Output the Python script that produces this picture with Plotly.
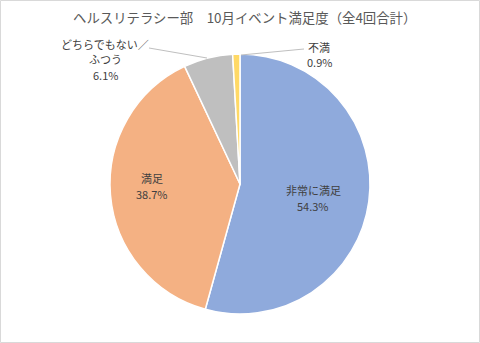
import plotly.graph_objects as go

# Survey results
categories = ["非常に満足", "満足", "どちらでもない／ふつう", "不満"]
shares = [54.3, 38.7, 6.1, 0.9]
colors = ["#8FAADC", "#F4B183", "#BFBFBF", "#FFD966"]
title = "ヘルスリテラシー部　10月イベント満足度（全4回合計）"

W, H = 480, 343
FONT = "Noto Sans CJK JP"

fig = go.Figure(go.Pie(
    labels=categories,
    values=shares,
    sort=False,
    direction="clockwise",
    rotation=0,
    marker=dict(colors=colors, line=dict(color="white", width=1.5)),
    textinfo="none",
    hoverinfo="label+percent",
    domain=dict(x=[110 / W, 370 / W], y=[29 / H, 289 / H]),
    showlegend=False,
))

# Label lines per slice: category name (wrapped after "／") then percentage
def label_lines(name, v):
    parts = name.replace("／", "／\n").split("\n")
    return parts + [f"{v:.1f}%"]

# Pixel anchor (x, first-line y) and line pitch for each slice's label
label_pos = [(313, 190, 16), (152, 178, 16), (105, 44, 15.5), (319, 47, 15.5)]

annotations = []
for name, v, (px, py, pitch) in zip(categories, shares, label_pos):
    for i, line in enumerate(label_lines(name, v)):
        annotations.append(dict(
            x=px / W, y=1 - (py + i * pitch) / H, xref="paper", yref="paper",
            text=line, showarrow=False,
            font=dict(family=FONT, size=11, color="#404040"),
            xanchor="center", yanchor="middle",
        ))

annotations.append(dict(
    x=245 / W, y=1 - 17 / H, xref="paper", yref="paper", text=title,
    showarrow=False, font=dict(family=FONT, size=13.4, color="#595959"),
    xanchor="center", yanchor="middle",
))

shapes = [
    # chart frame
    dict(type="rect", xref="paper", yref="paper", x0=0.5 / W, x1=1 - 0.5 / W,
         y0=0.5 / H, y1=1 - 0.5 / H, line=dict(color="#D9D9D9", width=1)),
    # leader lines for the small slices
    dict(type="line", xref="paper", yref="paper", x0=149 / W, y0=1 - 48 / H,
         x1=207 / W, y1=1 - 58 / H, line=dict(color="#BFBFBF", width=1)),
    dict(type="line", xref="paper", yref="paper", x0=241 / W, y0=1 - 55 / H,
         x1=304 / W, y1=1 - 49 / H, line=dict(color="#BFBFBF", width=1)),
]

fig.update_layout(
    width=W, height=H,
    margin=dict(l=0, r=0, t=0, b=0),
    paper_bgcolor="white",
    annotations=annotations,
    shapes=shapes,
)

fig.write_html("out.html")
